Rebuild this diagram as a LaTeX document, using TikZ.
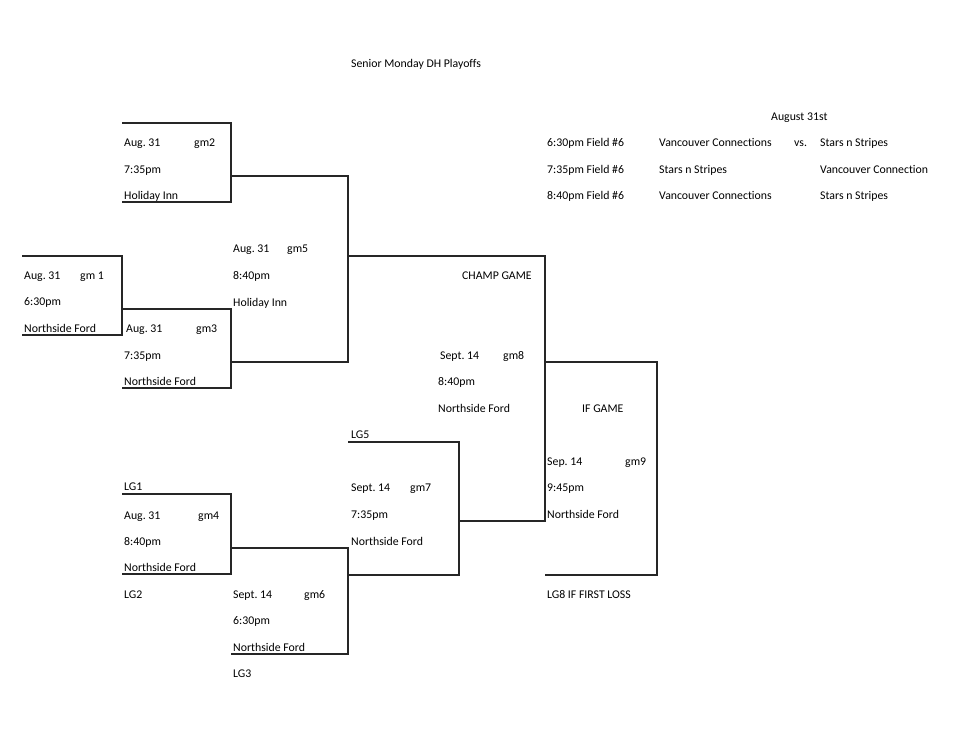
\documentclass[tikz,border=0pt]{standalone}
\usepackage{fontspec}
\setmainfont[Ligatures={NoCommon}]{Carlito}
\frenchspacing
\begin{document}
\begin{tikzpicture}[x=1pt,y=-1pt,
  lbl/.style={anchor=base west, inner sep=0pt, font=\fontsize{11.8}{13}\selectfont},
  br/.style={line width=1.1pt, black!85}]
\fill[white] (0,0) rectangle (963,745);
\useasboundingbox (0,0) rectangle (963,745);
% title
\node[lbl] (title) at (351,67) {Senior Monday DH Playoffs};
% schedule
\node[lbl] (aug) at (771,120) {August 31st};
\node[lbl] (t1) at (547,146) {6:30pm Field \#6};
\node[lbl] (t2) at (547,173) {7:35pm Field \#6};
\node[lbl] (t3) at (547,199) {8:40pm Field \#6};
\node[lbl] (h1) at (659,146) {Vancouver Connections};
\node[lbl] (h2) at (659,173) {Stars n Stripes};
\node[lbl] (h3) at (659,199) {Vancouver Connections};
\node[lbl] (vs) at (794,146) {vs.};
\node[lbl] (a1) at (820,146) {Stars n Stripes};
\node[lbl] (a2) at (820,173) {Vancouver Connection};
\node[lbl] (a3) at (820,199) {Stars n Stripes};
% brackets
\draw[br] (22,256) -- (122,256) -- (122,335) -- (22,335);
\draw[br] (122,123) -- (231,123) -- (231,202) -- (122,202);
\draw[br] (122,309) -- (231,309) -- (231,388) -- (122,388);
\draw[br] (231,176) -- (348,176) -- (348,362) -- (231,362);
\draw[br] (348,256) -- (545,256) -- (545,521) -- (459,521);
\draw[br] (545,362) -- (657,362) -- (657,575) -- (545,575);
\draw[br] (122,494) -- (231,494) -- (231,574) -- (122,574);
\draw[br] (231,548) -- (348,548) -- (348,654) -- (231,654);
\draw[br] (348,442) -- (459,442) -- (459,575) -- (348,575);
% gm1
\node[lbl] (g1d) at (24,279) {Aug. 31};
\node[lbl] (g1n) at (80,279) {gm 1};
\node[lbl] (g1t) at (24,305) {6:30pm};
\node[lbl] (g1l) at (24,332) {Northside Ford};
% gm2
\node[lbl] (g2d) at (124,146) {Aug. 31};
\node[lbl] (g2n) at (194,146) {gm2};
\node[lbl] (g2t) at (124,173) {7:35pm};
\node[lbl] (g2l) at (124,199) {Holiday Inn};
% gm3
\node[lbl] (g3d) at (126,332) {Aug. 31};
\node[lbl] (g3n) at (196,332) {gm3};
\node[lbl] (g3t) at (124,359) {7:35pm};
\node[lbl] (g3l) at (124,385) {Northside Ford};
% gm5
\node[lbl] (g5d) at (233,252) {Aug. 31};
\node[lbl] (g5n) at (287,252) {gm5};
\node[lbl] (g5t) at (233,279) {8:40pm};
\node[lbl] (g5l) at (233,306) {Holiday Inn};
% champ / gm8
\node[lbl] (champ) at (462,279) {CHAMP GAME};
\node[lbl] (g8d) at (440,359) {Sept. 14};
\node[lbl] (g8n) at (503,359) {gm8};
\node[lbl] (g8t) at (438,385) {8:40pm};
\node[lbl] (g8l) at (438,412) {Northside Ford};
% gm9
\node[lbl] (ifg) at (582,412) {IF GAME};
\node[lbl] (g9d) at (547,465) {Sep. 14};
\node[lbl] (g9n) at (625,465) {gm9};
\node[lbl] (g9t) at (547,491) {9:45pm};
\node[lbl] (g9l) at (547,518) {Northside Ford};
\node[lbl] (lg8) at (547,598) {LG8 IF FIRST LOSS};
% gm4
\node[lbl] (lg1) at (124,490) {LG1};
\node[lbl] (g4d) at (124,519) {Aug. 31};
\node[lbl] (g4n) at (198,519) {gm4};
\node[lbl] (g4t) at (124,545) {8:40pm};
\node[lbl] (g4l) at (124,571) {Northside Ford};
\node[lbl] (lg2) at (124,598) {LG2};
% gm6
\node[lbl] (g6d) at (233,598) {Sept. 14};
\node[lbl] (g6n) at (304,598) {gm6};
\node[lbl] (g6t) at (233,624) {6:30pm};
\node[lbl] (g6l) at (233,651) {Northside Ford};
\node[lbl] (lg3) at (233,677) {LG3};
% gm7
\node[lbl] (lg5) at (351,438) {LG5};
\node[lbl] (g7d) at (351,491) {Sept. 14};
\node[lbl] (g7n) at (410,491) {gm7};
\node[lbl] (g7t) at (351,518) {7:35pm};
\node[lbl] (g7l) at (351,545) {Northside Ford};
\end{tikzpicture}
\end{document}
